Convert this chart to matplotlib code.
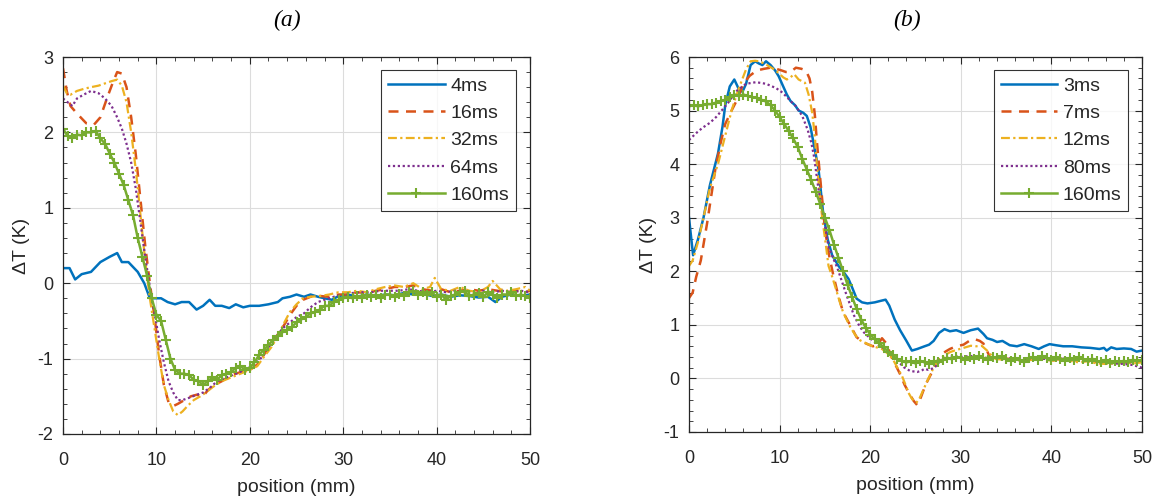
import numpy as np
import matplotlib
matplotlib.use("Agg")
import matplotlib.pyplot as plt
from matplotlib.ticker import AutoMinorLocator

plt.rcParams['font.family'] = ['Liberation Sans', 'DejaVu Sans']
plt.rcParams['axes.unicode_minus'] = False

# MATLAB default colour order
c_blue = '#0072BD'
c_orange = '#D95319'
c_yellow = '#EDB120'
c_purple = '#7E2F8E'
c_green = '#77AC30'
c_axis = '#262626'

# ---------------- panel (a) data ----------------
labels_a = ['4ms', '16ms', '32ms', '64ms', '160ms']

a_4ms = [(0, 0.2), (0.7, 0.2), (1.3, 0.05), (2, 0.12), (3, 0.15), (4, 0.28), (5, 0.35), (5.8, 0.4),
         (6.3, 0.28), (7, 0.28), (8, 0.15), (8.7, 0), (9.3, -0.2), (9.8, -0.2), (10.5, -0.2),
         (11.2, -0.25), (12, -0.28), (12.7, -0.25), (13.5, -0.25), (14.3, -0.35), (15, -0.3),
         (15.7, -0.22), (16.3, -0.3), (17, -0.3), (17.8, -0.33), (18.5, -0.28), (19.3, -0.32),
         (20, -0.3), (21, -0.3), (22, -0.28), (23, -0.25), (23.5, -0.2), (24.3, -0.18), (25, -0.15),
         (25.8, -0.18), (26.5, -0.15), (27.3, -0.18), (28, -0.2), (28.8, -0.22), (29.5, -0.17),
         (30.5, -0.15), (31.5, -0.18), (32.5, -0.15), (33.5, -0.17), (34.5, -0.15), (35.5, -0.16),
         (36.5, -0.13), (37.5, -0.15), (38.5, -0.14), (39.5, -0.17), (40.5, -0.15), (41.5, -0.18),
         (42.5, -0.16), (43.5, -0.17), (44.5, -0.19), (45.5, -0.18), (46.3, -0.25), (47, -0.18),
         (48, -0.15), (49, -0.17), (50, -0.15)]

a_16ms = [(0, 2.85), (0.4, 2.55), (0.8, 2.35), (1.5, 2.25), (2.5, 2.12), (3.3, 2.1), (4, 2.2),
          (4.7, 2.45), (5.3, 2.65), (5.8, 2.8), (6.3, 2.78), (6.8, 2.6), (7.3, 2.2), (7.8, 1.7),
          (8.3, 1.1), (8.8, 0.5), (9.3, 0), (9.8, -0.45), (10.3, -0.95), (10.8, -1.35), (11.3, -1.58),
          (11.8, -1.63), (12.3, -1.6), (13, -1.55), (13.7, -1.5), (14.3, -1.48), (15, -1.5),
          (15.5, -1.42), (16.2, -1.35), (17, -1.3), (18, -1.22), (19, -1.18), (20, -1.15),
          (20.8, -1.08), (21.5, -0.95), (22.3, -0.8), (23, -0.68), (23.7, -0.55), (24.3, -0.42),
          (25, -0.3), (25.7, -0.22), (26.5, -0.18), (27.5, -0.17), (28.5, -0.18), (29.5, -0.15),
          (30.5, -0.15), (31.5, -0.12), (32.5, -0.13), (33.5, -0.1), (34.5, -0.08), (35.5, -0.05),
          (36.5, -0.05), (37.5, -0.03), (38.5, -0.08), (39.5, -0.1), (40.5, -0.08), (41.5, -0.12),
          (42.5, -0.1), (43.5, -0.08), (44.5, -0.1), (45.5, -0.08), (46.5, -0.1), (47.5, -0.12),
          (48.5, -0.1), (49.5, -0.12), (50, -0.1)]

a_32ms = [(0, 2.62), (0.4, 2.52), (0.8, 2.5), (1.5, 2.55), (2.3, 2.58), (3, 2.6), (3.8, 2.62),
          (4.5, 2.65), (5.2, 2.68), (5.8, 2.7), (6.3, 2.62), (6.8, 2.4), (7.3, 2.0), (7.8, 1.5),
          (8.3, 0.9), (8.8, 0.3), (9.3, -0.2), (9.8, -0.6), (10.3, -1.0), (10.8, -1.35), (11.3, -1.55),
          (11.8, -1.7), (12.3, -1.75), (12.8, -1.7), (13.4, -1.62), (14, -1.55), (14.7, -1.5),
          (15.3, -1.45), (16, -1.38), (17, -1.3), (18, -1.25), (19, -1.2), (20, -1.15), (20.8, -1.1),
          (21.5, -0.98), (22.3, -0.85), (23, -0.7), (23.7, -0.52), (24.3, -0.38), (25, -0.28),
          (25.7, -0.2), (26.5, -0.18), (27.5, -0.17), (28.5, -0.15), (29.5, -0.12), (30.5, -0.12),
          (31.5, -0.1), (32.5, -0.12), (33.5, -0.08), (34.5, -0.05), (35.5, -0.03), (36.5, -0.05),
          (37.5, 0.0), (38.5, -0.08), (39.3, -0.05), (39.8, 0.07), (40.5, -0.08), (41.5, -0.1),
          (42.5, -0.05), (43.5, -0.1), (44.5, -0.12), (45.5, -0.05), (46, 0.03), (46.8, -0.08),
          (47.5, -0.1), (48.5, -0.08), (49.5, -0.05), (50, -0.1)]

a_64ms = [(0, 2.45), (0.5, 2.4), (1, 2.35), (1.5, 2.45), (2.2, 2.5), (3, 2.55), (3.8, 2.52),
          (4.5, 2.45), (5.2, 2.35), (5.8, 2.2), (6.3, 2.05), (6.8, 1.85), (7.3, 1.6), (7.8, 1.25),
          (8.3, 0.8), (8.8, 0.35), (9.3, -0.05), (9.8, -0.4), (10.3, -0.75), (10.8, -1.05),
          (11.3, -1.3), (11.8, -1.45), (12.3, -1.55), (12.8, -1.55), (13.5, -1.52), (14.3, -1.48),
          (15, -1.45), (15.8, -1.38), (16.5, -1.3), (17.5, -1.25), (18.5, -1.2), (19.5, -1.15),
          (20.5, -1.08), (21.3, -0.98), (22, -0.85), (22.8, -0.72), (23.5, -0.6), (24.3, -0.52),
          (25, -0.45), (25.8, -0.4), (26.5, -0.32), (27.3, -0.25), (28, -0.22), (29, -0.18),
          (30, -0.15), (31, -0.13), (32, -0.12), (33, -0.12), (34, -0.1), (35, -0.1), (36, -0.1),
          (37, -0.08), (38, -0.1), (39, -0.12), (40, -0.1), (41, -0.12), (42, -0.1), (43, -0.12),
          (44, -0.13), (45, -0.1), (46, -0.12), (47, -0.1), (48, -0.12), (49, -0.1), (50, -0.12)]

# 160ms curves are sampled every 0.5 mm (one marker per sample)
pos_160 = np.arange(0, 50.5, 0.5)
a_160ms = [2.05, 1.95, 1.93, 1.97, 1.96, 2.0, 2.0, 2.02, 1.92, 1.85,
           1.72, 1.6, 1.45, 1.3, 1.1, 0.9, 0.6, 0.35, 0.1, -0.2,
           -0.42, -0.5, -0.75, -1.0, -1.15, -1.2, -1.2, -1.22, -1.28, -1.3,
           -1.35, -1.3, -1.25, -1.28, -1.22, -1.2, -1.18, -1.12, -1.1, -1.15,
           -1.12, -1.05, -0.95, -0.88, -0.82, -0.75, -0.7, -0.65, -0.62, -0.58,
           -0.52, -0.48, -0.45, -0.4, -0.38, -0.35, -0.3, -0.3, -0.25, -0.22,
           -0.2, -0.18, -0.2, -0.17, -0.2, -0.15, -0.18, -0.15, -0.2, -0.15,
           -0.15, -0.18, -0.14, -0.17, -0.12, -0.1, -0.15, -0.12, -0.16, -0.12,
           -0.18, -0.15, -0.22, -0.17, -0.15, -0.12, -0.1, -0.17, -0.15, -0.13,
           -0.18, -0.12, -0.15, -0.2, -0.15, -0.15, -0.12, -0.17, -0.15, -0.17,
           -0.2]

# ---------------- panel (b) data ----------------
labels_b = ['3ms', '7ms', '12ms', '80ms', '160ms']

b_3ms = [(0, 3.0), (0.45, 2.3), (1, 2.6), (1.6, 3.0), (2.3, 3.6), (3.2, 4.2), (3.7, 4.7), (4.0, 5.1),
         (4.5, 5.45), (5.0, 5.58), (5.5, 5.4), (5.9, 5.35), (6.3, 5.5), (6.8, 5.85), (7.3, 5.92),
         (7.7, 5.88), (8.1, 5.85), (8.5, 5.92), (9.0, 5.85), (9.5, 5.75), (9.9, 5.64), (10.4, 5.45),
         (10.8, 5.3), (11.2, 5.18), (11.7, 5.1), (12.1, 5.0), (12.6, 4.96), (13.0, 4.9), (13.4, 4.7),
         (13.8, 4.35), (14.3, 3.9), (14.8, 3.1), (15.3, 2.6), (15.8, 2.3), (16.5, 2.1), (17.0, 2.0),
         (17.6, 1.86), (18.0, 1.7), (18.5, 1.49), (19.1, 1.42), (19.7, 1.4), (20.5, 1.42),
         (21.2, 1.45), (21.7, 1.47), (22.1, 1.36), (22.7, 1.1), (23.3, 0.9), (24.0, 0.7),
         (24.6, 0.52), (25.2, 0.55), (26, 0.6), (26.5, 0.63), (27, 0.7), (27.6, 0.85), (28.2, 0.92),
         (28.8, 0.88), (29.5, 0.9), (30.3, 0.85), (31.1, 0.9), (31.9, 0.93), (32.5, 0.83),
         (32.9, 0.75), (33.5, 0.72), (34.0, 0.68), (34.6, 0.7), (35.4, 0.62), (36.2, 0.6),
         (37, 0.64), (37.8, 0.6), (38.6, 0.55), (39.2, 0.6), (39.8, 0.64), (40.5, 0.62),
         (41.3, 0.6), (42.3, 0.6), (43.3, 0.58), (44.3, 0.57), (45.3, 0.55), (45.8, 0.57),
         (46.1, 0.52), (46.6, 0.58), (47.2, 0.55), (48, 0.56), (48.8, 0.55), (49.4, 0.5), (50, 0.52)]

b_7ms = [(0, 1.5), (0.4, 1.6), (0.8, 1.9), (1.3, 2.2), (2.0, 2.9), (2.9, 3.9), (3.5, 4.4), (4.0, 4.75),
         (4.7, 5.0), (5.3, 5.2), (6.0, 5.5), (6.7, 5.65), (7.5, 5.75), (8.3, 5.78), (9.0, 5.8),
         (9.6, 5.78), (10.2, 5.75), (10.7, 5.72), (11.2, 5.72), (11.8, 5.8), (12.4, 5.78),
         (12.9, 5.75), (13.3, 5.6), (13.6, 5.35), (13.9, 4.9), (14.1, 4.45), (14.5, 3.7), (15.0, 2.8),
         (15.4, 2.35), (15.9, 1.95), (16.4, 1.6), (17.0, 1.24), (17.8, 0.99), (18.5, 0.77),
         (19.2, 0.68), (19.7, 0.64), (20.3, 0.6), (20.8, 0.62), (21.3, 0.75), (21.8, 0.65),
         (22.3, 0.42), (22.8, 0.25), (23.3, 0.08), (23.8, -0.12), (24.3, -0.28), (24.8, -0.42),
         (25.2, -0.5), (25.6, -0.35), (26.1, -0.12), (26.8, 0.11), (27.3, 0.3), (27.8, 0.43),
         (28.3, 0.5), (28.8, 0.55), (29.5, 0.6), (30.3, 0.63), (31.1, 0.72), (31.6, 0.73),
         (32.1, 0.7), (32.5, 0.65), (32.8, 0.55), (33.2, 0.4), (33.8, 0.35), (35, 0.37), (36, 0.35),
         (37, 0.33), (38, 0.35), (39, 0.38), (40, 0.33), (41, 0.37), (42, 0.35), (43, 0.33),
         (44, 0.36), (45, 0.3), (46, 0.3), (47, 0.32), (48, 0.3), (49, 0.3), (50, 0.32)]

b_12ms = [(0, 2.1), (0.4, 2.2), (1.0, 2.55), (1.6, 3.0), (2.3, 3.55), (3.2, 4.0), (4.1, 4.6),
          (4.7, 5.0), (5.2, 5.27), (5.8, 5.55), (6.3, 5.77), (6.8, 5.92), (7.3, 5.93), (7.7, 5.92),
          (8.3, 5.88), (8.8, 5.83), (9.4, 5.77), (9.9, 5.7), (10.4, 5.62), (10.8, 5.58), (11.2, 5.62),
          (11.6, 5.68), (12.1, 5.58), (12.8, 5.52), (13.2, 5.3), (13.6, 4.96), (13.9, 4.5),
          (14.1, 4.0), (14.4, 3.5), (14.7, 3.0), (15.1, 2.5), (15.4, 2.1), (15.8, 1.9), (16.2, 1.68),
          (16.6, 1.45), (17.0, 1.24), (17.8, 0.96), (18.4, 0.8), (18.9, 0.71), (19.5, 0.66),
          (20.1, 0.61), (20.7, 0.58), (21.3, 0.55), (21.9, 0.47), (22.5, 0.36), (23.0, 0.2),
          (23.5, 0.05), (23.9, -0.12), (24.2, -0.26), (24.5, -0.35), (24.8, -0.42), (25.1, -0.45),
          (25.4, -0.39), (25.9, -0.2), (26.4, -0.01), (27.0, 0.2), (27.6, 0.36), (28.2, 0.43),
          (28.8, 0.49), (29.3, 0.52), (29.9, 0.55), (30.5, 0.58), (31.1, 0.61), (31.7, 0.6),
          (32.3, 0.61), (32.7, 0.55), (33.1, 0.49), (33.5, 0.4), (33.9, 0.36), (35, 0.35),
          (36, 0.37), (37, 0.33), (38, 0.35), (39, 0.36), (40, 0.33), (41, 0.35), (42, 0.33),
          (43, 0.3), (44, 0.32), (45, 0.28), (46, 0.27), (47, 0.28), (48, 0.3), (49, 0.28), (50, 0.3)]

b_80ms = [(0, 4.45), (0.8, 4.58), (1.5, 4.68), (2.3, 4.77), (3.0, 4.88), (3.4, 4.96), (4.3, 5.14),
          (5.2, 5.36), (6.3, 5.5), (7.4, 5.53), (8.5, 5.5), (9.6, 5.42), (10.2, 5.35), (10.7, 5.27),
          (11.2, 5.18), (11.8, 5.08), (12.5, 4.9), (13.1, 4.64), (13.5, 4.4), (13.8, 4.14),
          (14.3, 3.52), (14.9, 2.96), (15.4, 2.46), (15.9, 2.25), (16.4, 2.05), (17.0, 1.75),
          (17.4, 1.55), (18.2, 1.18), (18.8, 0.98), (19.3, 0.86), (20.0, 0.75), (20.5, 0.68),
          (21.1, 0.6), (21.7, 0.55), (22.3, 0.45), (22.9, 0.36), (23.3, 0.28), (23.7, 0.21),
          (24.4, 0.14), (25.2, 0.12), (25.7, 0.15), (26.0, 0.18), (26.4, 0.16), (26.8, 0.18),
          (27.2, 0.22), (27.6, 0.3), (28.2, 0.38), (28.8, 0.42), (30, 0.4), (31, 0.42), (32, 0.4),
          (33, 0.38), (34, 0.4), (35, 0.37), (36, 0.38), (37, 0.36), (38, 0.38), (39, 0.37),
          (40, 0.36), (41, 0.38), (42, 0.35), (43, 0.37), (44, 0.35), (45, 0.32), (46, 0.3),
          (47, 0.28), (48, 0.27), (49, 0.25), (50, 0.2)]

b_160ms = [5.08, 5.1, 5.08, 5.1, 5.12, 5.12, 5.15, 5.18, 5.2, 5.25,
           5.3, 5.27, 5.3, 5.27, 5.25, 5.24, 5.2, 5.17, 5.1, 5.0,
           4.88, 4.75, 4.62, 4.48, 4.32, 4.1, 3.9, 3.7, 3.48, 3.25,
           3.0, 2.77, 2.5, 2.25, 2.0, 1.75, 1.52, 1.3, 1.1, 0.95,
           0.82, 0.73, 0.66, 0.58, 0.5, 0.43, 0.36, 0.32, 0.3, 0.32,
           0.28, 0.33, 0.3, 0.27, 0.32, 0.3, 0.35, 0.38, 0.36, 0.4,
           0.38, 0.35, 0.4, 0.37, 0.42, 0.38, 0.35, 0.4, 0.38, 0.42,
           0.37, 0.33, 0.38, 0.35, 0.3, 0.38, 0.4, 0.35, 0.42, 0.38,
           0.35, 0.4, 0.37, 0.33, 0.38, 0.35, 0.4, 0.36, 0.33, 0.37,
           0.32, 0.3, 0.35, 0.28, 0.32, 0.3, 0.33, 0.3, 0.35, 0.32,
           0.35]

# line styles: solid, long dash, dash-dot, dotted, solid with '+'
styles = [
    dict(color=c_blue, lw=1.8, ls='-'),
    dict(color=c_orange, lw=1.8, ls=(0, (4, 3))),
    dict(color=c_yellow, lw=1.6, ls=(0, (4, 1.5, 1, 1.5))),
    dict(color=c_purple, lw=1.6, ls=(0, (1, 1.2))),
]


def draw_panel(ax, series, green, labels, ylim, yticks):
    for data, st, lab in zip(series, styles, labels):
        xy = np.array(data)
        ax.plot(xy[:, 0], xy[:, 1], label=lab, **st)
    ax.plot(pos_160, green, color=c_green, lw=1.8, marker='+', ms=7, mew=1.5, label=labels[4])

    ax.set_xlim(0, 50)
    ax.set_ylim(*ylim)
    ax.set_xticks([0, 10, 20, 30, 40, 50])
    ax.set_yticks(yticks)
    ax.xaxis.set_minor_locator(AutoMinorLocator(5))
    ax.yaxis.set_minor_locator(AutoMinorLocator(5))
    ax.grid(True, which='major', color='#dcdcdc', lw=0.8)
    ax.set_axisbelow(True)
    ax.tick_params(which='both', direction='in', top=True, right=True, colors=c_axis,
                   labelsize=13, labelcolor=c_axis)
    ax.tick_params(which='major', length=5, width=0.8)
    ax.tick_params(which='minor', length=3, width=0.6)
    ax.tick_params(axis='x', pad=13)
    ax.tick_params(axis='y', pad=7)
    for sp in ax.spines.values():
        sp.set_color(c_axis)
        sp.set_linewidth(0.9)
    ax.set_xlabel('position (mm)', fontsize=14, color=c_axis)
    ax.set_ylabel('ΔT (K)', fontsize=14, color=c_axis)
    ax.xaxis.set_label_coords(0.5, -0.12)
    ax.yaxis.set_label_coords(-0.07, 0.5)

    leg = ax.legend(loc='upper right', bbox_to_anchor=(0.97, 0.965), fontsize=14,
                    frameon=True, fancybox=False, handlelength=2.9, handletextpad=0.3,
                    labelspacing=0.5, borderpad=0.35, borderaxespad=0)
    leg.get_frame().set_edgecolor('black')
    leg.get_frame().set_linewidth(0.8)
    for t in leg.get_texts():
        t.set_color(c_axis)


fig = plt.figure(figsize=(11.6, 5), dpi=100)
ax_a = fig.add_axes([63 / 1160, 66 / 500, 467 / 1160, 377 / 500])
ax_b = fig.add_axes([689 / 1160, 68 / 500, 453 / 1160, 375 / 500])

draw_panel(ax_a, [a_4ms, a_16ms, a_32ms, a_64ms], a_160ms, labels_a, (-2, 3), [-2, -1, 0, 1, 2, 3])
draw_panel(ax_b, [b_3ms, b_7ms, b_12ms, b_80ms], b_160ms, labels_b, (-1, 6), [-1, 0, 1, 2, 3, 4, 5, 6])

fig.text(287 / 1160, 0.96, '(a)', fontsize=17, style='italic', family='Liberation Serif',
         ha='center', va='center')
fig.text(907 / 1160, 0.96, '(b)', fontsize=17, style='italic', family='Liberation Serif',
         ha='center', va='center')

fig.savefig('out.png', dpi=100)
